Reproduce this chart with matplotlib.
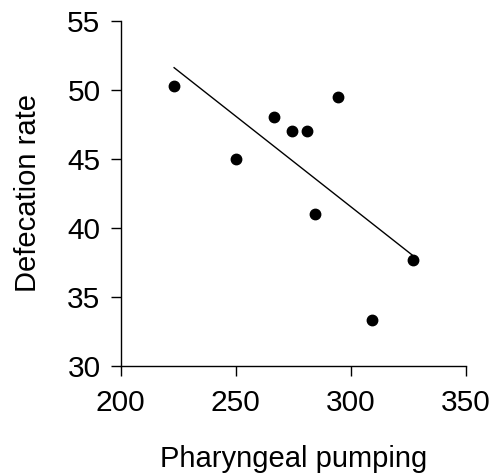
import numpy as np
import matplotlib
matplotlib.use("Agg")
import matplotlib.pyplot as plt

plt.rcParams['font.family'] = ['Liberation Sans', 'DejaVu Sans']

pumping = [223.2, 250.0, 266.5, 274.2, 281.0, 294.3, 284.3, 326.8, 309.0]
defecation = [50.3, 45.0, 48.0, 47.0, 47.0, 49.5, 41.0, 37.65, 33.3]
x_ticks = [200, 250, 300, 350]
y_ticks = [30, 35, 40, 45, 50, 55]

fig = plt.figure(figsize=(4.91, 4.73), dpi=100)
ax = fig.add_axes([120.7/491, 1 - 366/473, (466-120.7)/491, (366-20.7)/473])

x = np.array(pumping)
y = np.array(defecation)
slope, intercept = np.polyfit(x, y, 1)
xl = np.array([x.min(), x.max()])
ax.plot(xl, slope*xl + intercept, color='black', lw=1.0)
ax.plot(x, y, 'o', color='black', ms=7.5, mec='black')

ax.set_xlim(200, 350)
ax.set_ylim(30, 55)
ax.set_xticks(x_ticks)
ax.set_yticks(y_ticks)
for s in ['top', 'right']:
    ax.spines[s].set_visible(False)
for s in ['left', 'bottom']:
    ax.spines[s].set_linewidth(1.0)
ax.tick_params(axis='both', direction='out', length=7.5, width=1.0, labelsize=21.5)
ax.tick_params(axis='x', pad=9)
ax.tick_params(axis='y', pad=7)
ax.set_xlabel('Pharyngeal pumping', fontsize=21, labelpad=20)
ax.set_ylabel('Defecation rate', fontsize=21, labelpad=18)

fig.savefig('out.png', dpi=100)
